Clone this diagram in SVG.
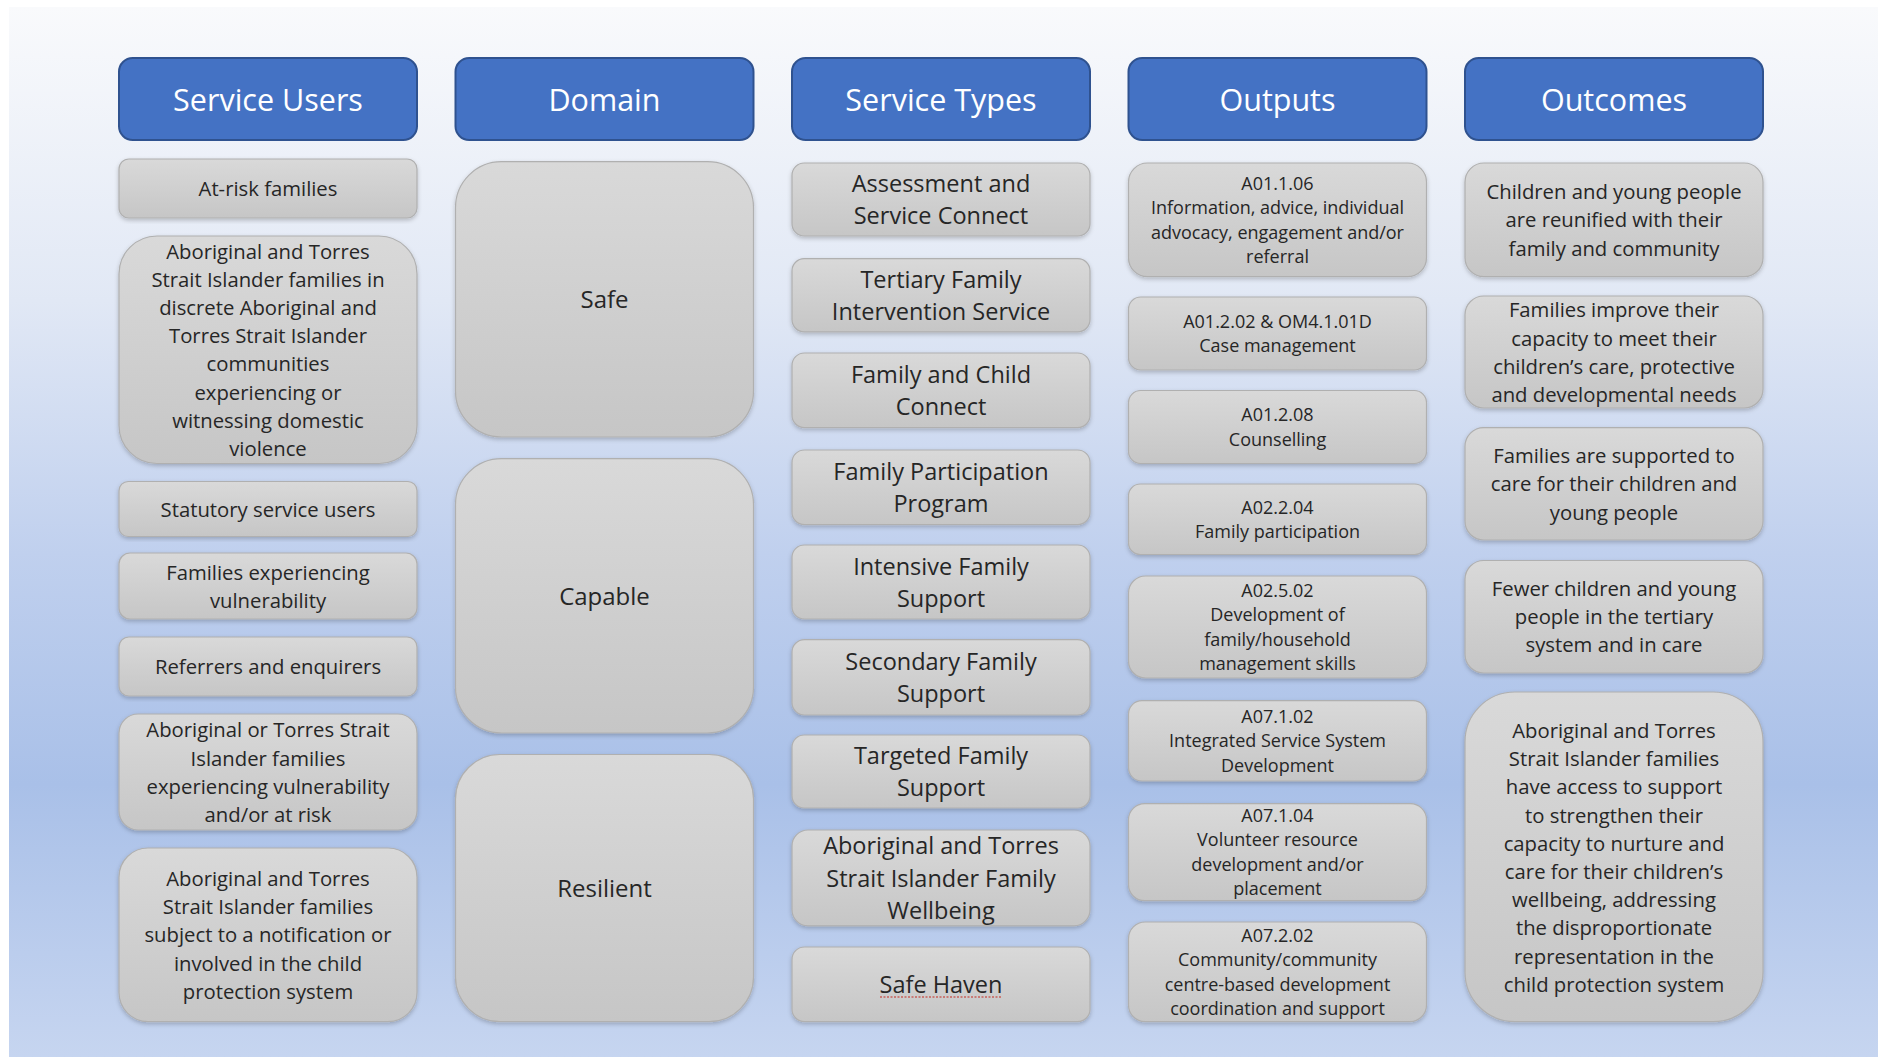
<svg xmlns="http://www.w3.org/2000/svg" width="1878" height="1057" viewBox="0 0 1878 1057">
<defs>
<linearGradient id="bg" x1="0" y1="0" x2="0" y2="1">
<stop offset="0" stop-color="#F9FAFC"/>
<stop offset="0.28" stop-color="#E1E8F5"/>
<stop offset="0.52" stop-color="#C0D0EE"/>
<stop offset="0.74" stop-color="#A9C0E8"/>
<stop offset="1" stop-color="#C6D5F0"/>
</linearGradient>
<linearGradient id="gray" x1="0" y1="0" x2="0" y2="1">
<stop offset="0" stop-color="#D9D9D9"/>
<stop offset="1" stop-color="#C6C6C6"/>
</linearGradient>
<filter id="sh" x="-5%" y="-5%" width="110%" height="115%">
<feDropShadow dx="0" dy="2" stdDeviation="2" flood-color="#000" flood-opacity="0.22"/>
</filter>
</defs>
<style>
.hdr rect{fill:#4472C4;stroke:#2F528F;stroke-width:2}
.box rect{fill:url(#gray);stroke:#B0B0B0;stroke-width:1.2;filter:url(#sh)}
text{font-family:"Open Sans","Liberation Sans",sans-serif;text-anchor:middle;fill:#262626}
.hdr text{font-size:30.5px;fill:#FFFFFF}
.c1 text,.c5 text{font-size:20.3px}
.c2 text{font-size:24px}
.c3 text{font-size:23.5px}
.c4 text{font-size:18px}
.squiggle{fill:none;stroke:#C8605A;stroke-width:1.5;stroke-dasharray:2 1.5}
</style>
<rect x="0" y="0" width="1878" height="1057" fill="#FFFFFF"/>
<rect x="9" y="7" width="1869" height="1050" fill="url(#bg)"/>

<!-- Headers -->
<g id="hdr-service-users" class="hdr"><rect x="119" y="58" width="298" height="82" rx="13.7"/><text x="268" y="111">Service Users</text></g>
<g id="hdr-domain" class="hdr"><rect x="455.5" y="58" width="298" height="82" rx="13.7"/><text x="604.5" y="111">Domain</text></g>
<g id="hdr-service-types" class="hdr"><rect x="792" y="58" width="298" height="82" rx="13.7"/><text x="941" y="111">Service Types</text></g>
<g id="hdr-outputs" class="hdr"><rect x="1128.5" y="58" width="298" height="82" rx="13.7"/><text x="1277.5" y="111">Outputs</text></g>
<g id="hdr-outcomes" class="hdr"><rect x="1465" y="58" width="298" height="82" rx="13.7"/><text x="1614" y="111">Outcomes</text></g>

<!-- Column 1: Service Users -->
<g id="su-1" class="box c1"><rect x="119" y="159" width="298" height="59" rx="10"/><text x="268" y="196.1">At-risk families</text></g>
<g id="su-2" class="box c1"><rect x="119" y="236" width="298" height="227.5" rx="38"/><text><tspan x="268" y="258.65">Aboriginal and Torres</tspan><tspan x="268" y="286.85">Strait Islander families in</tspan><tspan x="268" y="315.05">discrete Aboriginal and</tspan><tspan x="268" y="343.25">Torres Strait Islander</tspan><tspan x="268" y="371.45">communities</tspan><tspan x="268" y="399.65">experiencing or</tspan><tspan x="268" y="427.85">witnessing domestic</tspan><tspan x="268" y="456.05">violence</tspan></text></g>
<g id="su-3" class="box c1"><rect x="119" y="481.5" width="298" height="55" rx="9.2"/><text x="268" y="516.65">Statutory service users</text></g>
<g id="su-4" class="box c1"><rect x="119" y="553" width="298" height="66" rx="11"/><text><tspan x="268" y="579.5">Families experiencing</tspan><tspan x="268" y="607.7">vulnerability</tspan></text></g>
<g id="su-5" class="box c1"><rect x="119" y="637" width="298" height="59" rx="10"/><text x="268" y="674.1">Referrers and enquirers</text></g>
<g id="su-6" class="box c1"><rect x="119" y="714" width="298" height="116" rx="19.3"/><text><tspan x="268" y="737.3">Aboriginal or Torres Strait</tspan><tspan x="268" y="765.5">Islander families</tspan><tspan x="268" y="793.7">experiencing vulnerability</tspan><tspan x="268" y="821.9">and/or at risk</tspan></text></g>
<g id="su-7" class="box c1"><rect x="119" y="848" width="298" height="173.6" rx="29"/><text><tspan x="268" y="886">Aboriginal and Torres</tspan><tspan x="268" y="914.2">Strait Islander families</tspan><tspan x="268" y="942.4">subject to a notification or</tspan><tspan x="268" y="970.6">involved in the child</tspan><tspan x="268" y="998.8">protection system</tspan></text></g>

<!-- Column 2: Domain -->
<g id="dom-safe" class="box c2"><rect x="455.5" y="161.7" width="298" height="275.3" rx="46"/><text x="604.5" y="308">Safe</text></g>
<g id="dom-capable" class="box c2"><rect x="455.5" y="458.7" width="298" height="274.3" rx="46"/><text x="604.5" y="604.6">Capable</text></g>
<g id="dom-resilient" class="box c2"><rect x="455.5" y="754.5" width="298" height="267.1" rx="44.5"/><text x="604.5" y="896.6">Resilient</text></g>

<!-- Column 3: Service Types -->
<g id="st-1" class="box c3"><rect x="792" y="163" width="298" height="73" rx="12.2"/><text><tspan x="941" y="192">Assessment and</tspan><tspan x="941" y="224.2">Service Connect</tspan></text></g>
<g id="st-2" class="box c3"><rect x="792" y="258.7" width="298" height="73.1" rx="12.2"/><text><tspan x="941" y="287.6">Tertiary Family</tspan><tspan x="941" y="320">Intervention Service</tspan></text></g>
<g id="st-3" class="box c3"><rect x="792" y="353" width="298" height="74.6" rx="12.4"/><text><tspan x="941" y="382.8">Family and Child</tspan><tspan x="941" y="415.1">Connect</tspan></text></g>
<g id="st-4" class="box c3"><rect x="792" y="450" width="298" height="74.6" rx="12.4"/><text><tspan x="941" y="479.8">Family Participation</tspan><tspan x="941" y="512.1">Program</tspan></text></g>
<g id="st-5" class="box c3"><rect x="792" y="545" width="298" height="74" rx="12.3"/><text><tspan x="941" y="574.5">Intensive Family</tspan><tspan x="941" y="606.7">Support</tspan></text></g>
<g id="st-6" class="box c3"><rect x="792" y="639.6" width="298" height="75.4" rx="12.5"/><text><tspan x="941" y="669.8">Secondary Family</tspan><tspan x="941" y="702">Support</tspan></text></g>
<g id="st-7" class="box c3"><rect x="792" y="735" width="298" height="73" rx="12.2"/><text><tspan x="941" y="764">Targeted Family</tspan><tspan x="941" y="796.2">Support</tspan></text></g>
<g id="st-8" class="box c3"><rect x="792" y="830" width="298" height="95.8" rx="16"/><text><tspan x="941" y="854.2">Aboriginal and Torres</tspan><tspan x="941" y="886.5">Strait Islander Family</tspan><tspan x="941" y="918.8">Wellbeing</tspan></text></g>
<g id="st-9" class="box c3"><rect x="792" y="947" width="298" height="74.6" rx="12.4"/><text x="941" y="992.9">Safe Haven</text><path class="squiggle" d="M880 997 H1001"/></g>

<!-- Column 4: Outputs -->
<g id="out-1" class="box c4"><rect x="1128.5" y="163" width="298" height="113.7" rx="19"/><text><tspan x="1277.5" y="189.6">A01.1.06</tspan><tspan x="1277.5" y="214.1">Information, advice, individual</tspan><tspan x="1277.5" y="238.6">advocacy, engagement and/or</tspan><tspan x="1277.5" y="263.1">referral</tspan></text></g>
<g id="out-2" class="box c4"><rect x="1128.5" y="297" width="298" height="73" rx="12.2"/><text><tspan x="1277.5" y="327.75">A01.2.02 &amp; OM4.1.01D</tspan><tspan x="1277.5" y="352.25">Case management</tspan></text></g>
<g id="out-3" class="box c4"><rect x="1128.5" y="390.5" width="298" height="73" rx="12.2"/><text><tspan x="1277.5" y="421.25">A01.2.08</tspan><tspan x="1277.5" y="445.75">Counselling</tspan></text></g>
<g id="out-4" class="box c4"><rect x="1128.5" y="484" width="298" height="70.5" rx="11.8"/><text><tspan x="1277.5" y="513.5">A02.2.04</tspan><tspan x="1277.5" y="538">Family participation</tspan></text></g>
<g id="out-5" class="box c4"><rect x="1128.5" y="576" width="298" height="102" rx="17"/><text><tspan x="1277.5" y="596.75">A02.5.02</tspan><tspan x="1277.5" y="621.25">Development of</tspan><tspan x="1277.5" y="645.75">family/household</tspan><tspan x="1277.5" y="670.25">management skills</tspan></text></g>
<g id="out-6" class="box c4"><rect x="1128.5" y="700.7" width="298" height="80.3" rx="13.4"/><text><tspan x="1277.5" y="722.85">A07.1.02</tspan><tspan x="1277.5" y="747.35">Integrated Service System</tspan><tspan x="1277.5" y="771.85">Development</tspan></text></g>
<g id="out-7" class="box c4"><rect x="1128.5" y="803.6" width="298" height="97.1" rx="16.2"/><text><tspan x="1277.5" y="821.9">A07.1.04</tspan><tspan x="1277.5" y="846.4">Volunteer resource</tspan><tspan x="1277.5" y="870.9">development and/or</tspan><tspan x="1277.5" y="895.4">placement</tspan></text></g>
<g id="out-8" class="box c4"><rect x="1128.5" y="922" width="298" height="99.6" rx="16.6"/><text><tspan x="1277.5" y="941.5">A07.2.02</tspan><tspan x="1277.5" y="966">Community/community</tspan><tspan x="1277.5" y="990.5">centre-based development</tspan><tspan x="1277.5" y="1015">coordination and support</tspan></text></g>

<!-- Column 5: Outcomes -->
<g id="oc-1" class="box c5"><rect x="1465" y="163" width="298" height="113.7" rx="19"/><text><tspan x="1614" y="199.35">Children and young people</tspan><tspan x="1614" y="227.45">are reunified with their</tspan><tspan x="1614" y="255.55">family and community</tspan></text></g>
<g id="oc-2" class="box c5"><rect x="1465" y="296" width="298" height="112" rx="18.7"/><text><tspan x="1614" y="317.45">Families improve their</tspan><tspan x="1614" y="345.55">capacity to meet their</tspan><tspan x="1614" y="373.65">children’s care, protective</tspan><tspan x="1614" y="401.75">and developmental needs</tspan></text></g>
<g id="oc-3" class="box c5"><rect x="1465" y="427.6" width="298" height="112.4" rx="18.7"/><text><tspan x="1614" y="463.3">Families are supported to</tspan><tspan x="1614" y="491.4">care for their children and</tspan><tspan x="1614" y="519.5">young people</tspan></text></g>
<g id="oc-4" class="box c5"><rect x="1465" y="560.5" width="298" height="112.5" rx="18.7"/><text><tspan x="1614" y="596.25">Fewer children and young</tspan><tspan x="1614" y="624.35">people in the tertiary</tspan><tspan x="1614" y="652.45">system and in care</tspan></text></g>
<g id="oc-5" class="box c5"><rect x="1465" y="692" width="298" height="329.6" rx="49.7"/><text><tspan x="1614" y="737.9">Aboriginal and Torres</tspan><tspan x="1614" y="766.1">Strait Islander families</tspan><tspan x="1614" y="794.3">have access to support</tspan><tspan x="1614" y="822.5">to strengthen their</tspan><tspan x="1614" y="850.7">capacity to nurture and</tspan><tspan x="1614" y="878.9">care for their children’s</tspan><tspan x="1614" y="907.1">wellbeing, addressing</tspan><tspan x="1614" y="935.3">the disproportionate</tspan><tspan x="1614" y="963.5">representation in the</tspan><tspan x="1614" y="991.7">child protection system</tspan></text></g>

<g id="connectors"/>
</svg>
